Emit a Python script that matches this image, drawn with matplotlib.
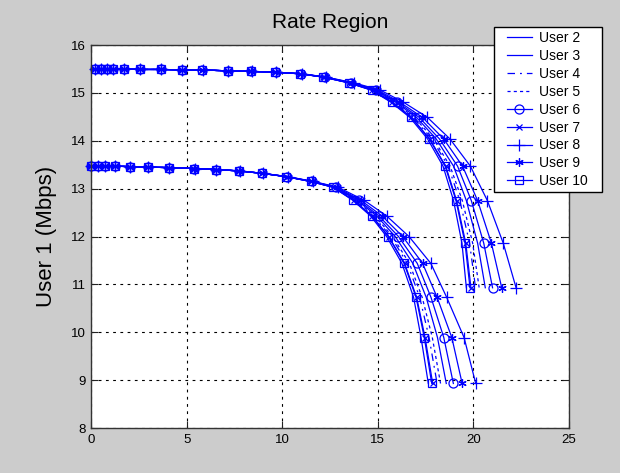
import matplotlib
matplotlib.use("Agg")
import matplotlib.pyplot as plt
from matplotlib.lines import Line2D
from matplotlib.legend_handler import HandlerLine2D

plt.rcParams['font.family'] = ['Liberation Sans', 'DejaVu Sans']

users = ["User 2", "User 3", "User 4", "User 5", "User 6",
         "User 7", "User 8", "User 9", "User 10"]

# Outer region: User 1 rate (shared by all curves) and rate of each other user
upper_user1 = [15.50, 15.50, 15.50, 15.50, 15.50, 15.49, 15.49, 15.48, 15.48,
               15.46, 15.45, 15.43, 15.40, 15.33, 15.21, 15.06, 14.81, 14.49,
               14.04, 13.47, 12.75, 11.86, 10.93]
upper_u2 = [0.21, 0.52, 0.84, 1.15, 1.74, 2.56, 3.67, 4.75, 5.83, 7.16, 8.37, 9.64,
            10.96, 12.20, 13.58, 14.83, 15.92, 17.02, 18.05, 18.96, 19.63, 20.22, 20.62]
upper_u3 = [0.21, 0.52, 0.84, 1.15, 1.74, 2.56, 3.66, 4.74, 5.82, 7.15, 8.35, 9.62,
            10.93, 12.14, 13.47, 14.64, 15.67, 16.67, 17.60, 18.41, 18.96, 19.40, 19.63]
upper_u4 = [0.21, 0.52, 0.84, 1.15, 1.74, 2.56, 3.66, 4.74, 5.82, 7.15, 8.36, 9.63,
            10.94, 12.17, 13.52, 14.73, 15.79, 16.84, 17.82, 18.68, 19.29, 19.80, 20.11]
upper_u5 = [0.21, 0.52, 0.84, 1.15, 1.74, 2.56, 3.66, 4.74, 5.83, 7.16, 8.36, 9.63,
            10.95, 12.18, 13.54, 14.77, 15.84, 16.91, 17.91, 18.78, 19.42, 19.96, 20.30]
upper_u6 = [0.21, 0.52, 0.84, 1.15, 1.74, 2.56, 3.67, 4.75, 5.83, 7.17, 8.37, 9.65,
            10.98, 12.22, 13.62, 14.90, 16.01, 17.16, 18.22, 19.17, 19.89, 20.54, 21.00]
upper_u7 = [0.21, 0.52, 0.84, 1.15, 1.74, 2.56, 3.66, 4.74, 5.82, 7.15, 8.35, 9.62,
            10.93, 12.15, 13.50, 14.69, 15.73, 16.76, 17.71, 18.55, 19.12, 19.60, 19.87]
upper_u8 = [0.21, 0.52, 0.85, 1.16, 1.75, 2.57, 3.68, 4.76, 5.85, 7.19, 8.40, 9.69,
            11.03, 12.30, 13.75, 15.12, 16.32, 17.59, 18.77, 19.84, 20.73, 21.56, 22.23]
upper_u9 = [0.21, 0.52, 0.85, 1.16, 1.75, 2.57, 3.67, 4.75, 5.84, 7.18, 8.38, 9.67,
            11.00, 12.25, 13.67, 14.98, 16.13, 17.33, 18.44, 19.43, 20.22, 20.94, 21.48]
upper_u10 = [0.21, 0.52, 0.84, 1.15, 1.74, 2.56, 3.66, 4.74, 5.82, 7.15, 8.35, 9.62,
             10.93, 12.15, 13.49, 14.68, 15.72, 16.74, 17.69, 18.52, 19.09, 19.56, 19.82]

# Inner region
lower_user1 = [13.48, 13.48, 13.48, 13.47, 13.46, 13.45, 13.44, 13.42, 13.40, 13.37,
               13.32, 13.25, 13.15, 13.03, 12.76, 12.43, 12.00, 11.44, 10.73, 9.89, 8.93]
lower_u2 = [0.00, 0.38, 0.73, 1.26, 2.03, 2.96, 4.07, 5.41, 6.54, 7.74, 8.95, 10.24,
            11.53, 12.75, 13.90, 14.94, 15.91, 16.83, 17.53, 18.12, 18.58]
lower_u3 = [0.00, 0.38, 0.73, 1.26, 2.03, 2.96, 4.06, 5.40, 6.53, 7.73, 8.93, 10.21,
            11.48, 12.65, 13.68, 14.62, 15.46, 16.26, 16.87, 17.26, 17.64]
lower_u4 = [0.00, 0.38, 0.73, 1.26, 2.03, 2.96, 4.06, 5.40, 6.53, 7.73, 8.93, 10.22,
            11.50, 12.70, 13.79, 14.77, 15.68, 16.54, 17.19, 17.68, 18.10]
lower_u5 = [0.00, 0.38, 0.73, 1.26, 2.03, 2.96, 4.06, 5.40, 6.53, 7.73, 8.94, 10.23,
            11.51, 12.72, 13.83, 14.84, 15.77, 16.65, 17.32, 17.85, 18.28]
lower_u6 = [0.00, 0.38, 0.73, 1.26, 2.03, 2.96, 4.07, 5.41, 6.54, 7.75, 8.96, 10.26,
            11.55, 12.79, 13.99, 15.06, 16.08, 17.06, 17.78, 18.45, 18.95]
lower_u7 = [0.00, 0.38, 0.73, 1.26, 2.03, 2.96, 4.06, 5.40, 6.53, 7.73, 8.93, 10.21,
            11.48, 12.67, 13.73, 14.70, 15.57, 16.40, 17.03, 17.47, 17.87]
lower_u8 = [0.00, 0.38, 0.73, 1.27, 2.04, 2.97, 4.08, 5.42, 6.56, 7.77, 8.99, 10.31,
            11.63, 12.92, 14.27, 15.46, 16.63, 17.77, 18.60, 19.51, 20.12]
lower_u9 = [0.00, 0.38, 0.73, 1.27, 2.04, 2.97, 4.07, 5.41, 6.55, 7.76, 8.97, 10.28,
            11.58, 12.84, 14.10, 15.22, 16.30, 17.34, 18.10, 18.87, 19.41]
lower_u10 = [0.00, 0.38, 0.73, 1.26, 2.03, 2.96, 4.06, 5.40, 6.53, 7.73, 8.93, 10.21,
             11.48, 12.67, 13.72, 14.68, 15.55, 16.37, 17.00, 17.43, 17.82]

upper_curves = [upper_u2, upper_u3, upper_u4, upper_u5, upper_u6,
                upper_u7, upper_u8, upper_u9, upper_u10]
lower_curves = [lower_u2, lower_u3, lower_u4, lower_u5, lower_u6,
                lower_u7, lower_u8, lower_u9, lower_u10]

styles = [
    dict(linestyle='-', marker=None),
    dict(linestyle='-', marker=None),
    dict(linestyle=(0, (6, 4, 1.5, 4)), marker=None),
    dict(linestyle=(0, (2.5, 2.5)), marker=None),
    dict(linestyle='-', marker='o', markersize=6.5),
    dict(linestyle='-', marker='x', markersize=4),
    dict(linestyle='-', marker='+', markersize=8),
    dict(linestyle='-', marker=(6, 2, 0), markersize=6),
    dict(linestyle='-', marker='s', markersize=6.2),
]

fig = plt.figure(figsize=(6.2, 4.73), dpi=100, facecolor='#cccccc')
ax = fig.add_axes([0.1468, 0.0951, 0.7710, 0.8097])
ax.set_facecolor('white')

handles = []
for name, xu, xl, st in zip(users, upper_curves, lower_curves, styles):
    kw = dict(color='blue', linewidth=0.9, markerfacecolor='none',
              markeredgecolor='blue', markeredgewidth=0.9, clip_on=False)
    kw.update(st)
    h, = ax.plot(xu, upper_user1, label=name, **kw)
    ax.plot(xl, lower_user1, **kw)
    handles.append(h)

ax.set_xlim(0, 25)
ax.set_ylim(8, 16)
ax.set_xticks([0, 5, 10, 15, 20, 25])
ax.set_yticks([8, 9, 10, 11, 12, 13, 14, 15, 16])
ax.tick_params(direction='in', length=5, width=0.8, labelsize=9.5,
               top=True, right=True, colors='#222222', labelcolor='black', pad=4)
ax.grid(True, color='black', linestyle=(0, (2.5, 4)), linewidth=0.8)
for s in ax.spines.values():
    s.set_color('#333333')
    s.set_linewidth(1.0)

ax.set_title('Rate Region', fontsize=15, pad=12)
ax.set_ylabel('User 1 (Mbps)', fontsize=16, labelpad=10)

# Legend box sits over the top-right corner, partly outside the axes
leg = fig.legend(handles=handles, loc='upper left', mode='expand',
                 bbox_to_anchor=(494 / 620, 0.586, 108 / 620, 0.357),
                 fontsize=10, fancybox=False, framealpha=1, edgecolor='black',
                 handlelength=2.4, labelspacing=0.28, borderpad=0.3,
                 handletextpad=0.55, borderaxespad=0,
                 handler_map={Line2D: HandlerLine2D(xpad=0.6)})
leg.get_frame().set_linewidth(1.0)

fig.savefig('out.png', dpi=100, facecolor=fig.get_facecolor())
